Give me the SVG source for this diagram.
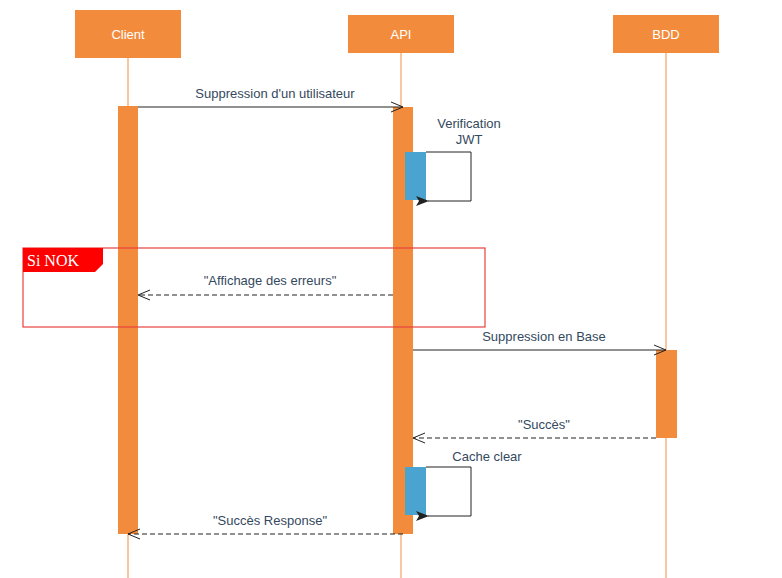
<svg xmlns="http://www.w3.org/2000/svg" width="782" height="578" viewBox="0 0 782 578">
<defs>
<style>
.box{fill:#F28C3C}
.bt{font-family:"Liberation Sans",Arial,sans-serif;font-size:13px;fill:#FFFFFF;text-anchor:middle}
.life{stroke:#F6B483;stroke-width:1.5;fill:none}
.act{fill:#F28C3C}
.blue{fill:#4BA4CF}
.msg{stroke:#222;stroke-width:1;fill:none}
.dash{stroke:#222;stroke-width:1;fill:none;stroke-dasharray:5,3}
.lbl{font-family:"Liberation Sans",Arial,sans-serif;font-size:13px;fill:#34495E;text-anchor:middle}
</style>
<marker id="open" markerWidth="14" markerHeight="12" refX="13" refY="6" orient="auto" markerUnits="userSpaceOnUse">
<path d="M1,1 L13,6 L1,11" fill="none" stroke="#222" stroke-width="1"/>
</marker>
<marker id="fill" markerWidth="14" markerHeight="10" refX="1" refY="5" orient="auto" markerUnits="userSpaceOnUse">
<path d="M0,5 L13,0 L10,5 L13,10 Z" fill="#222"/>
</marker>
</defs>
<rect width="782" height="578" fill="#FFFFFF"/>
<g id="lifelines">
<line class="life" x1="128" y1="58" x2="128" y2="578"/>
<line class="life" x1="401" y1="53" x2="401" y2="578"/>
<line class="life" x1="666" y1="53" x2="666" y2="578"/>
</g>
<g id="client">
<rect class="box" x="75" y="10" width="106" height="48"/>
<text class="bt" x="128" y="39">Client</text>
<rect class="act" x="118" y="106" width="20" height="428"/>
</g>
<g id="api">
<rect class="box" x="348" y="15" width="106" height="38"/>
<text class="bt" x="401" y="39">API</text>
<rect class="act" x="393" y="107" width="20" height="427"/>
<rect class="blue" x="405" y="152" width="21" height="48"/>
<rect class="blue" x="405" y="467" width="21" height="48"/>
</g>
<g id="bdd">
<rect class="box" x="613" y="15" width="106" height="38"/>
<text class="bt" x="666" y="39">BDD</text>
<rect class="act" x="656" y="350" width="21" height="88"/>
</g>
<g id="frame">
<rect x="23" y="248" width="462" height="79" fill="none" stroke="#E8413F" stroke-width="1.2"/>
<path d="M23,248 H103 V264 L95,272 H23 Z" fill="#FF0000"/>
<text x="27" y="266" font-family="'Liberation Serif','Times New Roman',serif" font-size="16" fill="#FFFFFF">Si NOK</text>
</g>
<g id="connectors">
<line class="msg" x1="138" y1="107" x2="403" y2="107" marker-end="url(#open)"/>
<text class="lbl" x="275" y="98">Suppression d'un utilisateur</text>
<path class="msg" d="M426,152 H471 V201 H428" marker-end="url(#fill)"/>
<text class="lbl" x="469" y="128">Verification</text>
<text class="lbl" x="469" y="144">JWT</text>
<line class="dash" x1="393" y1="295" x2="138" y2="295" marker-end="url(#open)"/>
<text class="lbl" x="270" y="285">"Affichage des erreurs"</text>
<line class="msg" x1="413" y1="350" x2="666" y2="350" marker-end="url(#open)"/>
<text class="lbl" x="544" y="341">Suppression en Base</text>
<line class="dash" x1="656" y1="438" x2="413" y2="438" marker-end="url(#open)"/>
<text class="lbl" x="544" y="429">"Succès"</text>
<path class="msg" d="M426,467 H471 V516 H428" marker-end="url(#fill)"/>
<text class="lbl" x="487" y="461">Cache clear</text>
<line class="dash" x1="403" y1="534" x2="128" y2="534" marker-end="url(#open)"/>
<text class="lbl" x="270" y="525">"Succès Response"</text>
</g>
</svg>
